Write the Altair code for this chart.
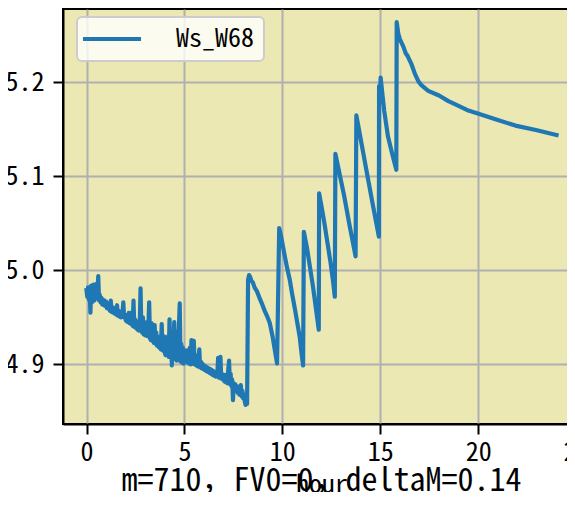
import altair as alt
import pandas as pd

series_name = "Ws_W68"
title_text = "m=710，FV0=0，deltaM=0.14"
x_label = "hour"
x_ticks = [0, 5, 10, 15, 20, 25]
y_ticks = [4.9, 5.0, 5.1, 5.2]

# noisy part, 0 .. 8.2 h
hours_a = [
    0.00, 0.04, 0.08, 0.12, 0.16, 0.20, 0.24, 0.28, 0.32, 0.36, 0.40, 0.44, 0.48, 0.52, 0.56, 0.60,
    0.64, 0.68, 0.72, 0.76, 0.80, 0.84, 0.88, 0.92, 0.96, 1.00,
    1.04, 1.08, 1.12, 1.16, 1.20, 1.24, 1.28, 1.32, 1.36, 1.40, 1.44, 1.48, 1.52, 1.56, 1.60, 1.64,
    1.68, 1.72, 1.76, 1.80, 1.84, 1.88, 1.92, 1.96, 2.00,
    2.04, 2.08, 2.12, 2.16, 2.20, 2.24, 2.28, 2.32, 2.36, 2.40, 2.44, 2.48, 2.52, 2.56, 2.60, 2.64,
    2.68, 2.72, 2.76, 2.80, 2.84, 2.88, 2.92, 2.96, 3.00,
    3.04, 3.08, 3.12, 3.16, 3.20, 3.24, 3.28, 3.32, 3.36, 3.40, 3.44, 3.48, 3.52, 3.56, 3.60, 3.64,
    3.68, 3.72, 3.76, 3.80, 3.84, 3.88, 3.92, 3.96, 4.00,
    4.04, 4.08, 4.12, 4.16, 4.20, 4.24, 4.28, 4.32, 4.36, 4.40, 4.44, 4.48, 4.52, 4.56, 4.60, 4.64,
    4.68, 4.72, 4.76, 4.80, 4.84, 4.88, 4.92, 4.96, 5.00,
    5.04, 5.08, 5.12, 5.16, 5.20, 5.24, 5.28, 5.32, 5.36, 5.40, 5.44, 5.48, 5.52, 5.56, 5.60, 5.64,
    5.68, 5.72, 5.76, 5.80, 5.84, 5.88, 5.92, 5.96, 6.00,
    6.04, 6.08, 6.12, 6.16, 6.20, 6.24, 6.28, 6.32, 6.36, 6.40, 6.44, 6.48, 6.52, 6.56, 6.60, 6.64,
    6.68, 6.72, 6.76, 6.80, 6.84, 6.88, 6.92, 6.96, 7.00,
    7.04, 7.08, 7.12, 7.16, 7.20, 7.24, 7.28, 7.32, 7.36, 7.40, 7.44, 7.48, 7.52, 7.56, 7.60, 7.64,
    7.68, 7.72, 7.76, 7.80, 7.84, 7.88, 7.92, 7.96, 8.00, 8.04, 8.08, 8.12, 8.16, 8.20,
]
values_a = [
    4.979, 4.972, 4.982, 4.969, 4.980, 4.955, 4.984, 4.966, 4.976, 4.985, 4.968, 4.978, 4.970, 4.986, 4.972, 4.994,
    4.968, 4.974, 4.966, 4.971, 4.964, 4.969, 4.963, 4.968, 4.962, 4.967,
    4.960, 4.965, 4.959, 4.963, 4.957, 4.968, 4.956, 4.961, 4.955, 4.960, 4.954, 4.958, 4.953, 4.963, 4.952, 4.957,
    4.951, 4.956, 4.950, 4.955, 4.955, 4.966, 4.950, 4.953, 4.947,
    4.946, 4.951, 4.945, 4.955, 4.944, 4.955, 4.943, 4.950, 4.941, 4.968, 4.940, 4.948, 4.939, 4.946, 4.937, 4.944,
    4.936, 4.944, 4.981, 4.938, 4.934, 4.950, 4.932, 4.942, 4.931,
    4.938, 4.945, 4.930, 4.940, 4.966, 4.928, 4.926, 4.944, 4.925, 4.936, 4.923, 4.942, 4.922, 4.934, 4.920, 4.928,
    4.919, 4.918, 4.930, 4.916, 4.943, 4.915, 4.926, 4.930, 4.912,
    4.910, 4.925, 4.910, 4.930, 4.908, 4.948, 4.910, 4.925, 4.899, 4.935, 4.906, 4.945, 4.908, 4.935, 4.904, 4.930,
    4.905, 4.940, 4.965, 4.903, 4.922, 4.902, 4.918, 4.901, 4.915,
    4.912, 4.903, 4.915, 4.902, 4.910, 4.901, 4.918, 4.900, 4.926, 4.901, 4.912, 4.925, 4.900, 4.910, 4.899, 4.906,
    4.898, 4.905, 4.916, 4.897, 4.903, 4.896, 4.901, 4.895, 4.899,
    4.894, 4.898, 4.893, 4.897, 4.892, 4.896, 4.891, 4.895, 4.890, 4.894, 4.889, 4.893, 4.888, 4.892, 4.887, 4.891,
    4.889, 4.907, 4.886, 4.896, 4.908, 4.885, 4.890, 4.884, 4.888,
    4.882, 4.889, 4.881, 4.886, 4.880, 4.895, 4.904, 4.879, 4.890, 4.877, 4.884, 4.862, 4.880, 4.874, 4.879, 4.872,
    4.877, 4.870, 4.876, 4.868, 4.874, 4.878, 4.866, 4.872, 4.864, 4.868, 4.861, 4.857, 4.862, 4.858,
]

# saw-tooth part and final decay, 8.25 .. 24 h
hours_b = [
    8.25, 8.30, 8.36, 8.42, 8.50, 8.58, 8.70, 8.85, 8.95, 9.10, 9.25, 9.36, 9.50, 9.62, 9.73,
    9.84, 9.95, 10.10, 10.25, 10.38, 10.50, 10.65, 10.80, 10.89, 10.98, 11.06,
    11.10, 11.25, 11.40, 11.55, 11.70, 11.86,
    11.88, 12.00, 12.15, 12.30, 12.45, 12.58, 12.68,
    12.71, 12.85, 13.00, 13.15, 13.30, 13.45, 13.60, 13.74,
    13.78, 14.00, 14.29, 14.60, 14.93,
    14.94, 14.98, 15.02, 15.20, 15.39, 15.60, 15.82,
    15.84, 15.92, 16.00, 16.18, 16.30, 16.40, 16.60, 16.77, 16.95, 17.10, 17.45, 18.00, 18.48,
    19.00, 19.50, 20.10, 21.00, 21.90, 23.00, 24.00,
]
values_b = [
    4.990, 4.995, 4.993, 4.989, 4.987, 4.982, 4.978, 4.970, 4.965, 4.957, 4.950, 4.944, 4.930, 4.915, 4.901,
    5.045, 5.035, 5.018, 5.002, 4.990, 4.975, 4.958, 4.940, 4.929, 4.912, 4.899,
    5.041, 5.025, 5.005, 4.985, 4.962, 4.937,
    5.082, 5.068, 5.050, 5.030, 5.010, 4.990, 4.972,
    5.124, 5.110, 5.095, 5.080, 5.063, 5.046, 5.030, 5.015,
    5.165, 5.140, 5.107, 5.072, 5.036,
    5.196, 5.180, 5.205, 5.170, 5.143, 5.125, 5.107,
    5.264, 5.252, 5.246, 5.238, 5.231, 5.228, 5.219, 5.209, 5.201, 5.197, 5.191, 5.186, 5.180,
    5.175, 5.170, 5.166, 5.160, 5.154, 5.149, 5.144,
]

hours = hours_a + hours_b
values = values_a + values_b
df = pd.DataFrame({"hour": hours, "value": values, "series": [series_name] * len(hours)})

FONT = "Noto Sans Mono CJK SC, DejaVu Sans Mono, monospace"

chart = alt.Chart(df).mark_line(
    strokeWidth=4.2, strokeJoin="round", strokeCap="square"
).encode(
    x=alt.X(
        "hour:Q",
        scale=alt.Scale(domain=[-1.2, 25.2], nice=False, zero=False),
        axis=alt.Axis(values=x_ticks, format="d", title=x_label, titleY=68,
                      titleBaseline="alphabetic", labelPadding=5),
    ),
    y=alt.Y(
        "value:Q",
        scale=alt.Scale(domain=[4.8367, 5.2780], nice=False, zero=False),
        axis=alt.Axis(values=y_ticks, format=".1f", title=None, labelPadding=9),
    ),
    color=alt.Color(
        "series:N",
        scale=alt.Scale(range=["#1f77b4"]),
        legend=alt.Legend(
            title=None, orient="none", legendX=14, legendY=8, padding=9,
            fillColor="rgba(255,255,255,0.8)", strokeColor="#cccccc", cornerRadius=5,
            symbolType="M-3,0H3", symbolSize=374, symbolStrokeWidth=4.2, symbolOffset=13,
            labelFont=FONT, labelFontSize=26, labelColor="black", labelOffset=51,
        ),
    ),
).properties(
    width=517,
    height=415,
    padding={"left": 55, "top": 1, "right": -13, "bottom": 68},
    autosize=alt.AutoSizeParams(type="none"),
    title=alt.Title(title_text, orient="bottom", fontSize=32, font=FONT, fontWeight="normal",
                    color="black", offset=-31, anchor="middle", frame="group"),
).configure_view(
    fill="#ebe8b4", stroke="black", strokeWidth=2
).configure_axis(
    domainColor="black", domainWidth=2, tickColor="black", tickWidth=2, tickSize=10,
    gridColor="#b0b0b0", gridWidth=2, labelFont=FONT, labelFontSize=26, labelColor="black",
    titleFont=FONT, titleFontSize=26, titleFontWeight="normal", titleColor="black",
).configure_legend(
    strokeWidth=2
)

chart.save("out.html", embed_options={"renderer": "svg", "actions": False})
